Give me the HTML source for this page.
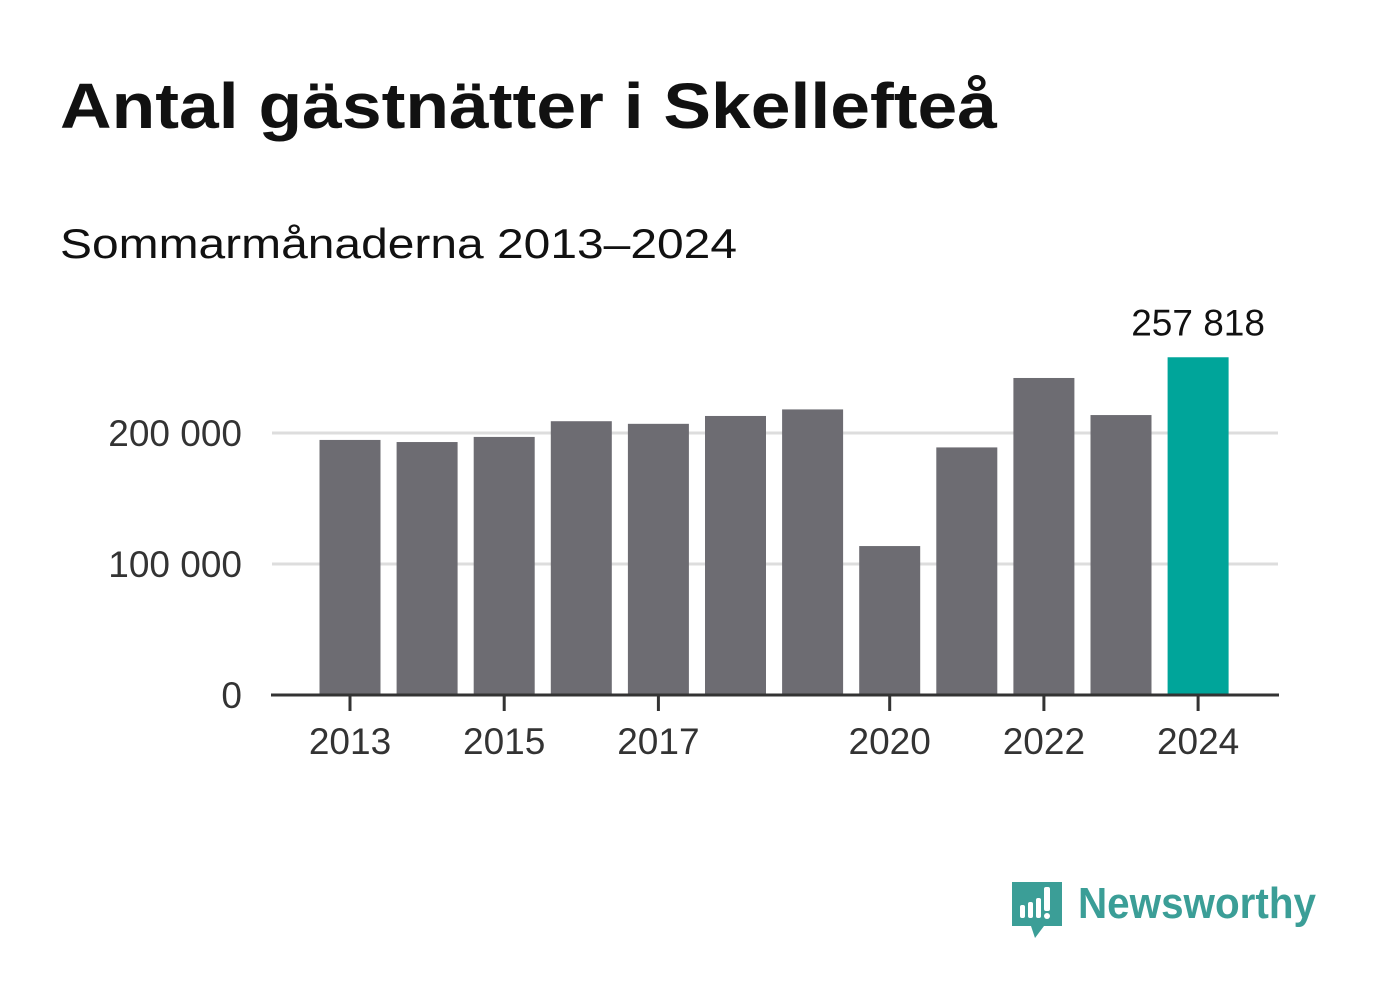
<!DOCTYPE html>
<html><head><meta charset="utf-8"><style>
body{margin:0;background:#fff;width:1382px;height:999px;overflow:hidden;font-family:"Liberation Sans",sans-serif}
</style></head><body>
<svg id="chart" width="1382" height="999">
<text x="60" y="128" font-size="64" font-weight="bold" fill="#111" textLength="937" lengthAdjust="spacingAndGlyphs">Antal gästnätter i Skellefteå</text>
<text x="60" y="258" font-size="42" fill="#111" textLength="677" lengthAdjust="spacingAndGlyphs">Sommarmånaderna 2013–2024</text>
<g id="grid"></g><g id="bars"></g><g id="axes"></g>
<g>
<path d="M1012 882 h50 v44 h-18 l-9 12 -4 -12 h-19 z" fill="#3b9e97"/>
<rect x="1020" y="905" width="5" height="13" rx="2" fill="#fff"/><rect x="1028" y="902" width="5" height="16" rx="2" fill="#fff"/><rect x="1036" y="898" width="5" height="20" rx="2" fill="#fff"/><rect x="1044" y="887" width="6" height="24" rx="2" fill="#fff"/><circle cx="1047" cy="916" r="3" fill="#fff"/>
<text x="1078" y="918" font-size="44" font-weight="bold" fill="#3b9e97" textLength="238" lengthAdjust="spacingAndGlyphs">Newsworthy</text>
</g>
</svg>
<script>
const years=[2013,2014,2015,2016,2017,2018,2019,2020,2021,2022,2023,2024];
const values=[194700,193100,197000,209000,207000,213000,218000,113700,189000,242000,213700,257818];
const yTicks=[0,100000,200000];
const xTickYears=[2013,2015,2017,2020,2022,2024];
const NS="http://www.w3.org/2000/svg";
const y=v=>695-v*0.00131;
const x=i=>350+i*77.1;
function mk(tag,attrs,parent,text){const e=document.createElementNS(NS,tag);for(const k in attrs)e.setAttribute(k,attrs[k]);if(text!==undefined)e.textContent=text;document.getElementById(parent).appendChild(e);return e;}
const fmt=v=>v.toLocaleString('en-US').replace(/,/g,' ');
yTicks.forEach(t=>{
 if(t>0){const l=mk('line',{x1:272,x2:1278,y1:y(t),y2:y(t),stroke:'#dddddd','stroke-width':3},'grid');
 
 }
 const tx=mk('text',{x:242,y:y(t)+13,'text-anchor':'end','font-size':37,fill:'#333'},'axes',fmt(t));
 
 
});
values.forEach((v,i)=>{
 const last=i===values.length-1;
 const r=mk('rect',{x:x(i)-30.5,y:y(v),width:61,height:695-y(v),fill:last?'#00a59a':'#6d6c72'},'bars');
 
 
 if(last){const t=mk('text',{x:x(i),y:y(v)-22,'text-anchor':'middle','font-size':37,fill:'#111'},'bars',fmt(v));
 
 }
});
const ax=mk('line',{x1:271,x2:1279,y1:695,y2:695,stroke:'#333','stroke-width':3},'axes');


xTickYears.forEach(yr=>{
 const i=years.indexOf(yr);
 const tk=mk('line',{x1:x(i),x2:x(i),y1:695,y2:711,stroke:'#333','stroke-width':3},'axes');
 
 
 const t=mk('text',{x:x(i),y:754,'text-anchor':'middle','font-size':37,fill:'#333'},'axes',String(yr));
 
 
});
</script>
</body></html>
